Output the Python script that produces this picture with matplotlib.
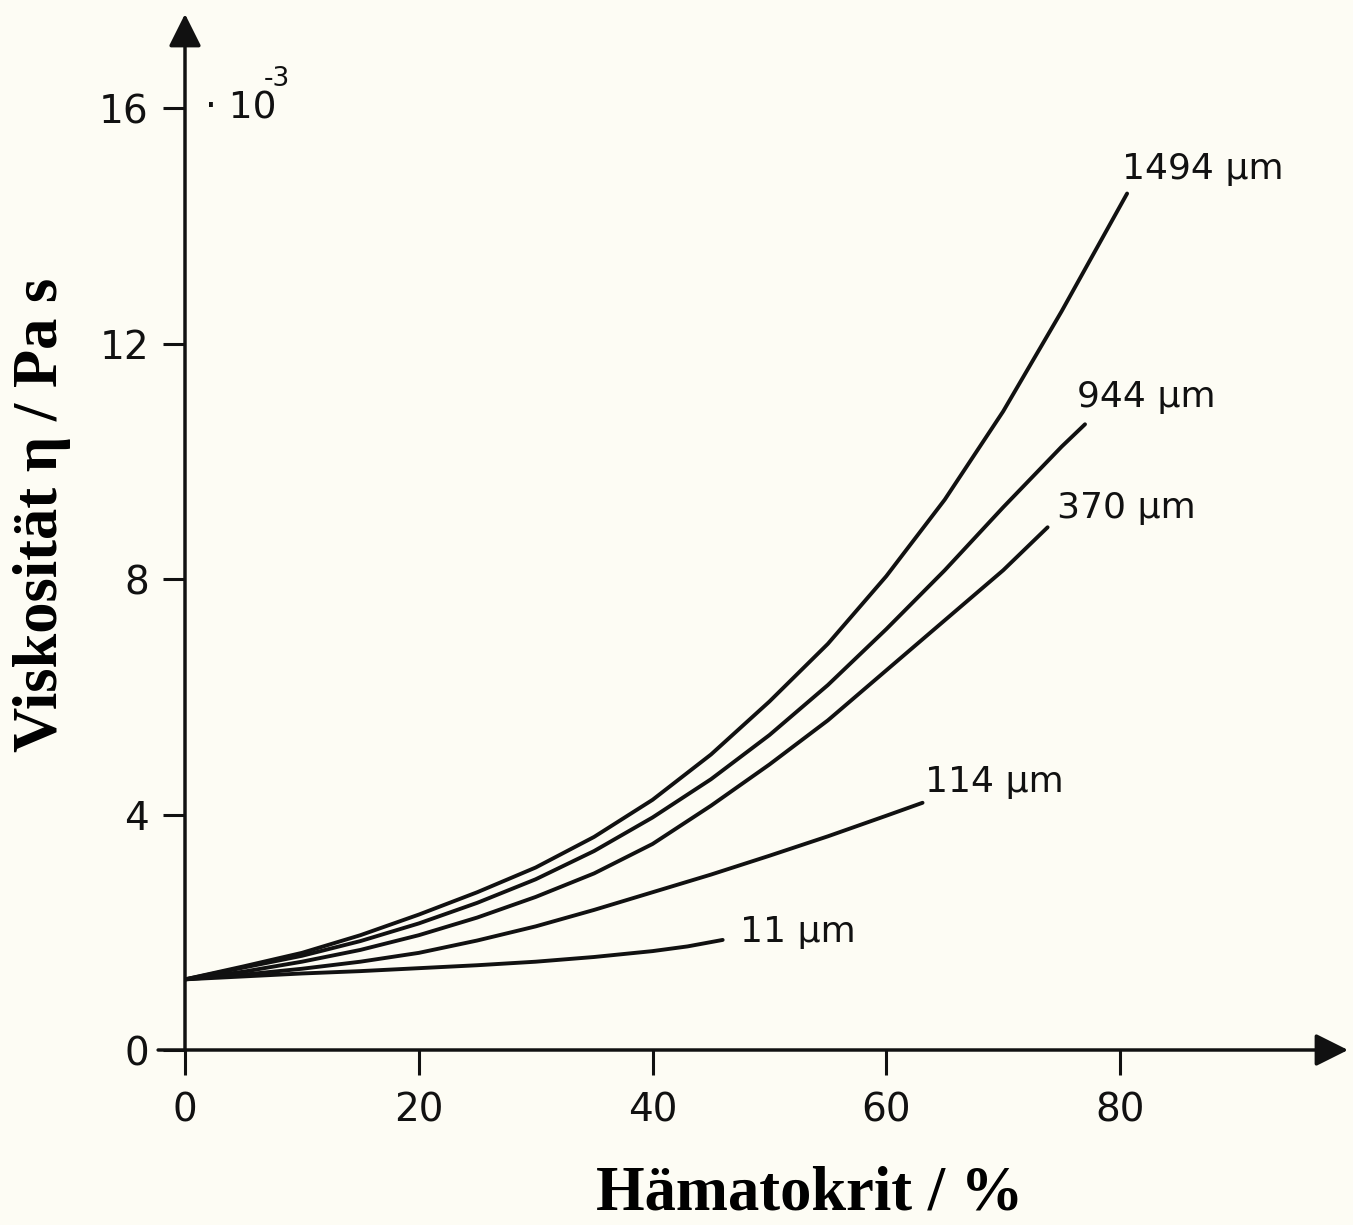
import matplotlib.pyplot as plt

# Hämatokrit in %, Viskosität in 1e-3 Pa s
hkt_1494 = [0, 5, 10, 15, 20, 25, 30, 35, 40, 45, 50, 55, 60, 65, 70, 75, 80.6]
eta_1494 = [1.2, 1.42, 1.65, 1.95, 2.3, 2.68, 3.1, 3.62, 4.25, 5.02, 5.92,
            6.9, 8.05, 9.35, 10.85, 12.55, 14.55]

hkt_944 = [0, 5, 10, 15, 20, 25, 30, 35, 40, 45, 50, 55, 60, 65, 70, 75, 77.0]
eta_944 = [1.2, 1.4, 1.6, 1.85, 2.15, 2.5, 2.9, 3.38, 3.95, 4.6, 5.35,
           6.2, 7.15, 8.15, 9.22, 10.25, 10.63]

hkt_370 = [0, 5, 10, 15, 20, 25, 30, 35, 40, 45, 50, 55, 60, 65, 70, 73.8]
eta_370 = [1.2, 1.33, 1.5, 1.7, 1.95, 2.25, 2.6, 3.0, 3.5, 4.15, 4.85,
           5.6, 6.45, 7.3, 8.15, 8.88]

hkt_114 = [0, 5, 10, 15, 20, 25, 30, 35, 40, 45, 50, 55, 60, 63.1]
eta_114 = [1.2, 1.28, 1.38, 1.5, 1.65, 1.86, 2.1, 2.38, 2.68, 2.98, 3.3,
           3.63, 3.98, 4.2]

hkt_11 = [0, 5, 10, 15, 20, 25, 30, 35, 40, 43, 46]
eta_11 = [1.2, 1.25, 1.3, 1.34, 1.39, 1.44, 1.5, 1.58, 1.68, 1.76, 1.87]

curves = [
    (hkt_1494, eta_1494, '1494 µm', (80.2, 14.96)),
    (hkt_944, eta_944, '944 µm', (76.3, 11.1)),
    (hkt_370, eta_370, '370 µm', (74.6, 9.2)),
    (hkt_114, eta_114, '114 µm', (63.3, 4.55)),
    (hkt_11, eta_11, '11 µm', (47.5, 2.0)),
]

x_ticks = [0, 20, 40, 60, 80]
y_ticks = [0, 4, 8, 12, 16]

bg = '#fdfcf4'
ink = '#111111'
tick_font = 'DejaVu Sans'

fig = plt.figure(figsize=(13.53, 12.25), dpi=100, facecolor=bg)
ax = fig.add_axes([185 / 1353, 175 / 1225, 1163 / 1353, 1036 / 1225])
ax.set_facecolor(bg)

x_max = 99.5
y_max = 17.6
ax.set_xlim(0, x_max)
ax.set_ylim(0, y_max)

for xs, ys, label, pos in curves:
    ax.plot(xs, ys, color=ink, lw=2.8, solid_capstyle='round',
            solid_joinstyle='round')
    ax.text(pos[0], pos[1], label, ha='left', va='center', fontsize=26,
            family=tick_font, color=ink)

for side in ax.spines.values():
    side.set_visible(False)

# axes drawn as arrows
arrow = dict(arrowstyle='-|>,head_length=1.0,head_width=0.5', lw=2.5,
             color=ink, shrinkA=0, shrinkB=0, mutation_scale=20)
ax.annotate('', xy=(x_max, 0), xytext=(-2.3, 0), arrowprops=arrow,
            annotation_clip=False)
ax.annotate('', xy=(0, y_max), xytext=(0, 0), arrowprops=arrow,
            annotation_clip=False)

ax.set_xticks(x_ticks)
ax.set_yticks(y_ticks)
ax.tick_params(axis='x', direction='out', length=18, width=2.2, pad=12,
               labelsize=28, colors=ink)
ax.tick_params(axis='y', direction='out', length=16, width=2.2, pad=10,
               labelsize=28, colors=ink)
for lab in ax.get_xticklabels() + ax.get_yticklabels():
    lab.set_family(tick_font)

ax.text(1.7, 16, '· 10', ha='left', va='center', fontsize=27,
        family=tick_font, color=ink)
ax.text(6.7, 16.5, '-3', ha='left', va='center', fontsize=19,
        family=tick_font, color=ink)

fig.text(42 / 1353, 1 - 515 / 1225, 'Viskosität η / Pa s', rotation=90,
         ha='center', va='center', fontsize=45, fontweight='bold',
         family=['Liberation Serif', 'DejaVu Serif'], color='black')
fig.text(810 / 1353, 1 - 1195 / 1225, 'Hämatokrit / %',
         ha='center', va='center', fontsize=45, fontweight='bold',
         family=['Liberation Serif', 'DejaVu Serif'], color='black')

fig.savefig('out.png', dpi=100, facecolor=bg)
